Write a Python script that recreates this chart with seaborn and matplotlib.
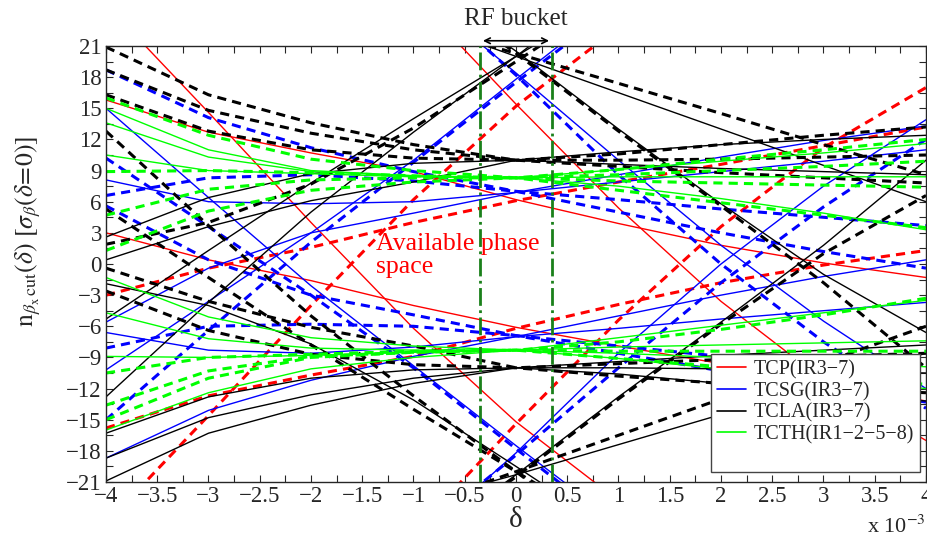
import numpy as np
import pandas as pd
import matplotlib
matplotlib.use("Agg")
import matplotlib.pyplot as plt
import seaborn as sns
from matplotlib.lines import Line2D
from matplotlib.ticker import MultipleLocator, FuncFormatter

nan = np.nan

# momentum offset, units of 1e-3
delta = [-4, -3, -2, -1, 0, 1, 2, 3, 4]

# TCP (red): solid = beam 1, dashed = beam 2
tcp_b1_a = [15.8, 12.7, 10.7, 8.9, 6.2, 3.9, 1.8, 0.1, -1.3]
tcp_b1_b = [3.0, 0.4, -1.6, -4.0, -6.1, -7.9, -9.6, -11.4, -13.2]
tcp_b1_c = [25.0, 14.6, 4.0, -6.2, -15.2, -22.8, nan, nan, nan]
tcp_b1_d = [nan, nan, nan, 25.8, 15.4, 5.4, -3.6, -11.2, -17.0]
tcp_b2_a = [-15.8, -12.7, -10.7, -8.9, -6.2, -3.9, -1.8, -0.1, 1.3]
tcp_b2_b = [-3.0, -0.4, 1.6, 4.0, 6.1, 7.9, 9.6, 11.4, 13.2]
tcp_b2_c = [-25.0, -14.6, -4.0, 6.2, 15.2, 22.8, nan, nan, nan]
tcp_b2_d = [nan, nan, nan, -25.8, -15.4, -5.4, 3.6, 11.2, 17.0]

# TCSG (blue)
tcsg_b1_a = [8.1, 6.0, 5.8, 6.0, 6.9, 7.9, 8.9, 9.9, 11.0]
tcsg_b1_b = [-5.6, -0.4, 3.0, 4.9, 6.9, 8.6, 10.3, 11.9, 13.3]
tcsg_b1_c = [-6.6, -8.3, -8.6, -8.0, -7.0, -5.0, -3.0, -1.2, 0.4]
tcsg_b1_d = [-18.7, -14.1, -11.2, -8.9, -7.0, -6.2, -5.3, -4.5, -3.7]
tcsg_b1_e = [15.0, 6.4, -2.1, -9.8, -17.5, -25.0, nan, nan, nan]
tcsg_b1_f = [nan, nan, nan, 26.5, 18.4, 10.0, 1.8, -5.5, -12.0]
tcsg_b1_g = [nan, nan, nan, -27.0, -18.2, -8.6, 0.0, 7.5, 13.9]
tcsg_b1_h = [-10.2, -3.6, 3.0, 10.0, 17.8, 25.5, nan, nan, nan]
tcsg_b2_a = [-8.1, -6.0, -5.8, -6.0, -6.9, -7.9, -8.9, -9.9, -11.0]
tcsg_b2_b = [5.6, 0.4, -3.0, -4.9, -6.9, -8.6, -10.3, -11.9, -13.3]
tcsg_b2_c = [6.6, 8.3, 8.6, 8.0, 7.0, 5.0, 3.0, 1.2, -0.4]
tcsg_b2_d = [18.7, 14.1, 11.2, 8.9, 7.0, 6.2, 5.3, 4.5, 3.7]
tcsg_b2_e = [-15.0, -6.4, 2.1, 9.8, 17.5, 25.0, nan, nan, nan]
tcsg_b2_f = [nan, nan, nan, -26.5, -18.4, -10.0, -1.8, 5.5, 12.0]
tcsg_b2_g = [nan, nan, nan, 27.0, 18.2, 8.6, 0.0, -7.5, -13.9]
tcsg_b2_h = [10.2, 3.6, -3.0, -10.0, -17.8, -25.5, nan, nan, nan]

# TCLA (black)
tcla_b1_a = [2.6, 6.4, 8.7, 9.7, 10.0, 10.8, 11.5, 12.0, 12.4]
tcla_b1_b = [0.4, 3.6, 6.1, 7.9, 10.0, 9.6, 9.2, 8.9, 8.6]
tcla_b1_c = [-16.3, -12.8, -11.0, -10.2, -10.0, -10.6, -11.5, -12.4, -13.2]
tcla_b1_d = [-20.9, -16.3, -13.6, -11.5, -10.0, -9.4, -8.8, -8.3, -7.8]
tcla_b1_e = [-18.7, -14.8, -12.6, -11.0, -10.0, -10.0, -10.1, -10.3, -10.5]
tcla_b1_f = [-1.9, -4.0, -7.7, -13.1, -19.5, -26.0, nan, nan, nan]
tcla_b1_g = [-5.3, 1.3, 7.8, 14.0, 20.0, 26.0, nan, nan, nan]
tcla_b1_h = [-12.8, -3.7, 5.0, 12.7, 20.0, 27.5, nan, nan, nan]
tcla_b1_i = [nan, nan, nan, 27.5, 20.5, 13.0, 5.8, -1.0, -6.6]
tcla_b1_j = [nan, nan, nan, 23.5, 20.0, 16.5, 13.0, 9.5, 6.0]
tcla_b1_k = [nan, nan, nan, -23.0, -20.3, -17.4, -14.5, -11.5, -8.6]
tcla_b1_l = [nan, nan, nan, -27.5, -20.3, -12.8, -5.6, 1.8, 10.0]
tcla_b2_a = [-2.6, -6.4, -8.7, -9.7, -10.0, -10.8, -11.5, -12.0, -12.4]
tcla_b2_b = [-0.4, -3.6, -6.1, -7.9, -10.0, -9.6, -9.2, -8.9, -8.6]
tcla_b2_c = [16.3, 12.8, 11.0, 10.2, 10.0, 10.6, 11.5, 12.4, 13.2]
tcla_b2_d = [20.9, 16.3, 13.6, 11.5, 10.0, 9.4, 8.8, 8.3, 7.8]
tcla_b2_e = [18.7, 14.8, 12.6, 11.0, 10.0, 10.0, 10.1, 10.3, 10.5]
tcla_b2_f = [1.9, 4.0, 7.7, 13.1, 19.5, 26.0, nan, nan, nan]
tcla_b2_g = [5.3, -1.3, -7.8, -14.0, -20.0, -26.0, nan, nan, nan]
tcla_b2_h = [12.8, 3.7, -5.0, -12.7, -20.0, -27.5, nan, nan, nan]
tcla_b2_i = [nan, nan, nan, -27.5, -20.5, -13.0, -5.8, 1.0, 6.6]
tcla_b2_j = [nan, nan, nan, -23.5, -20.0, -16.5, -13.0, -9.5, -6.0]
tcla_b2_k = [nan, nan, nan, 23.0, 20.3, 17.4, 14.5, 11.5, 8.6]
tcla_b2_l = [nan, nan, nan, 27.5, 20.3, 12.8, 5.6, -1.8, -10.0]

# TCTH (green)
tcth_b1_a = [15.0, 11.0, 9.0, 8.5, 8.3, 7.5, 6.3, 4.9, 3.3]
tcth_b1_b = [13.6, 10.3, 8.9, 8.5, 8.3, 8.4, 8.4, 8.4, 8.4]
tcth_b1_c = [10.5, 9.0, 8.7, 8.4, 8.3, 9.1, 9.9, 10.7, 11.6]
tcth_b1_d = [-1.3, -5.1, -7.1, -7.9, -8.3, -7.1, -5.9, -4.7, -3.5]
tcth_b1_e = [-4.7, -7.2, -8.1, -8.3, -8.3, -8.0, -7.8, -7.6, -7.4]
tcth_b1_f = [-8.9, -9.0, -8.8, -8.5, -8.3, -8.6, -9.0, -9.4, -9.9]
tcth_b1_g = [-16.0, -12.4, -10.1, -9.0, -8.3, -9.1, -10.1, -11.0, -12.0]
tcth_b2_a = [-15.0, -11.0, -9.0, -8.5, -8.3, -7.5, -6.3, -4.9, -3.3]
tcth_b2_b = [-13.6, -10.3, -8.9, -8.5, -8.3, -8.4, -8.4, -8.4, -8.4]
tcth_b2_c = [-10.5, -9.0, -8.7, -8.4, -8.3, -9.1, -9.9, -10.7, -11.6]
tcth_b2_d = [1.3, 5.1, 7.1, 7.9, 8.3, 7.1, 5.9, 4.7, 3.5]
tcth_b2_e = [4.7, 7.2, 8.1, 8.3, 8.3, 8.0, 7.8, 7.6, 7.4]
tcth_b2_f = [8.9, 9.0, 8.8, 8.5, 8.3, 8.6, 9.0, 9.4, 9.9]
tcth_b2_g = [16.0, 12.4, 10.1, 9.0, 8.3, 9.1, 10.1, 11.0, 12.0]

families = [
    ("TCP(IR3\u22127)", "#ff0000",
     [tcp_b1_a, tcp_b1_b, tcp_b1_c, tcp_b1_d],
     [tcp_b2_a, tcp_b2_b, tcp_b2_c, tcp_b2_d]),
    ("TCSG(IR3\u22127)", "#0000ff",
     [tcsg_b1_a, tcsg_b1_b, tcsg_b1_c, tcsg_b1_d, tcsg_b1_e, tcsg_b1_f, tcsg_b1_g, tcsg_b1_h],
     [tcsg_b2_a, tcsg_b2_b, tcsg_b2_c, tcsg_b2_d, tcsg_b2_e, tcsg_b2_f, tcsg_b2_g, tcsg_b2_h]),
    ("TCLA(IR3\u22127)", "#000000",
     [tcla_b1_a, tcla_b1_b, tcla_b1_c, tcla_b1_d, tcla_b1_e, tcla_b1_f,
      tcla_b1_g, tcla_b1_h, tcla_b1_i, tcla_b1_j, tcla_b1_k, tcla_b1_l],
     [tcla_b2_a, tcla_b2_b, tcla_b2_c, tcla_b2_d, tcla_b2_e, tcla_b2_f,
      tcla_b2_g, tcla_b2_h, tcla_b2_i, tcla_b2_j, tcla_b2_k, tcla_b2_l]),
    ("TCTH(IR1\u22122\u22125\u22128)", "#00ff00",
     [tcth_b1_a, tcth_b1_b, tcth_b1_c, tcth_b1_d, tcth_b1_e, tcth_b1_f, tcth_b1_g],
     [tcth_b2_a, tcth_b2_b, tcth_b2_c, tcth_b2_d, tcth_b2_e, tcth_b2_f, tcth_b2_g]),
]


def to_frame(lines):
    rows = []
    for i, vals in enumerate(lines):
        for d, v in zip(delta, vals):
            rows.append((i, d, v))
    return pd.DataFrame(rows, columns=["line", "delta", "n"]).dropna()


sns.set_style("ticks")
plt.rcParams["font.family"] = ["Liberation Serif", "DejaVu Serif"]
plt.rcParams["mathtext.fontset"] = "stix"

fig = plt.figure(figsize=(9.28, 5.44), dpi=100)
ax = fig.add_axes([106 / 928, 62 / 544, 820 / 928, 436 / 544])

for label, color, beam1, beam2 in families:
    sns.lineplot(data=to_frame(beam1), x="delta", y="n", units="line", estimator=None,
                 sort=False, color=color, lw=1.0, legend=False, ax=ax)
    sns.lineplot(data=to_frame(beam2), x="delta", y="n", units="line", estimator=None,
                 sort=False, color=color, lw=2.2, linestyle=(0, (3, 2)), legend=False, ax=ax)

# RF bucket limits
for xv in (-0.35, 0.35):
    ax.axvline(xv, color="#1a801a", ls="-.", lw=2.0, zorder=5)
ax.annotate("", xy=(-0.35, 1.012), xytext=(0.35, 1.012),
            xycoords=("data", "axes fraction"), textcoords=("data", "axes fraction"),
            arrowprops=dict(arrowstyle="<->", color="black", lw=1.2), annotation_clip=False)
ax.text(0, 1.062, "RF bucket", transform=ax.get_xaxis_transform(), ha="center", va="center",
        fontsize=18)
ax.text(-1.37, 0.8, "Available phase\nspace", color="red", fontsize=18.5, ha="left", va="center",
        linespacing=1.05, zorder=6)

ax.set_xlim(-4, 4)
ax.set_ylim(-21, 21)
ax.xaxis.set_major_locator(MultipleLocator(0.5))
ax.xaxis.set_minor_locator(MultipleLocator(0.25))
ax.yaxis.set_major_locator(MultipleLocator(3))
ax.yaxis.set_minor_locator(MultipleLocator(1.5))
fmt = FuncFormatter(lambda v, p: f"{v:g}".replace("-", "\u2212"))
ax.xaxis.set_major_formatter(fmt)
ax.yaxis.set_major_formatter(fmt)
ax.tick_params(which="both", direction="in", top=True, right=True, length=5, width=0.8,
               labelsize=16.5, pad=3)
for sp in ax.spines.values():
    sp.set_linewidth(1.0)
ax.set_xlabel("\u03b4", fontsize=21, labelpad=0)
ax.set_ylabel("")
fig.text(28 / 928, 1 - 232 / 544,
         r"$\mathrm{n}_{\beta_{\mathrm{x}}\,\mathrm{cut}}(\delta)\ [\sigma_{\beta}(\delta\!=\!0)]$",
         rotation=90, ha="center", va="center", fontsize=18.5)
fig.text(926 / 928, 1 - 527 / 544, r"x 10$^{-3}$", ha="right", va="center", fontsize=16)

handles = [Line2D([], [], color=c, lw=1.2) for _, c, _, _ in families]
labels = [f[0] for f in families]
handles.append(Line2D([], [], color="none"))
labels.append(" ")
leg = ax.legend(handles, labels, loc="lower right", bbox_to_anchor=(920 / 928, 72 / 544),
                bbox_transform=fig.transFigure, borderaxespad=0, fontsize=14.5, frameon=True,
                fancybox=False, edgecolor="#444444", framealpha=1, handlelength=1.4,
                handletextpad=0.4, labelspacing=0.12, borderpad=0.3)
leg.get_frame().set_linewidth(1.0)
leg.set_zorder(10)

fig.savefig("out.png", dpi=100)
